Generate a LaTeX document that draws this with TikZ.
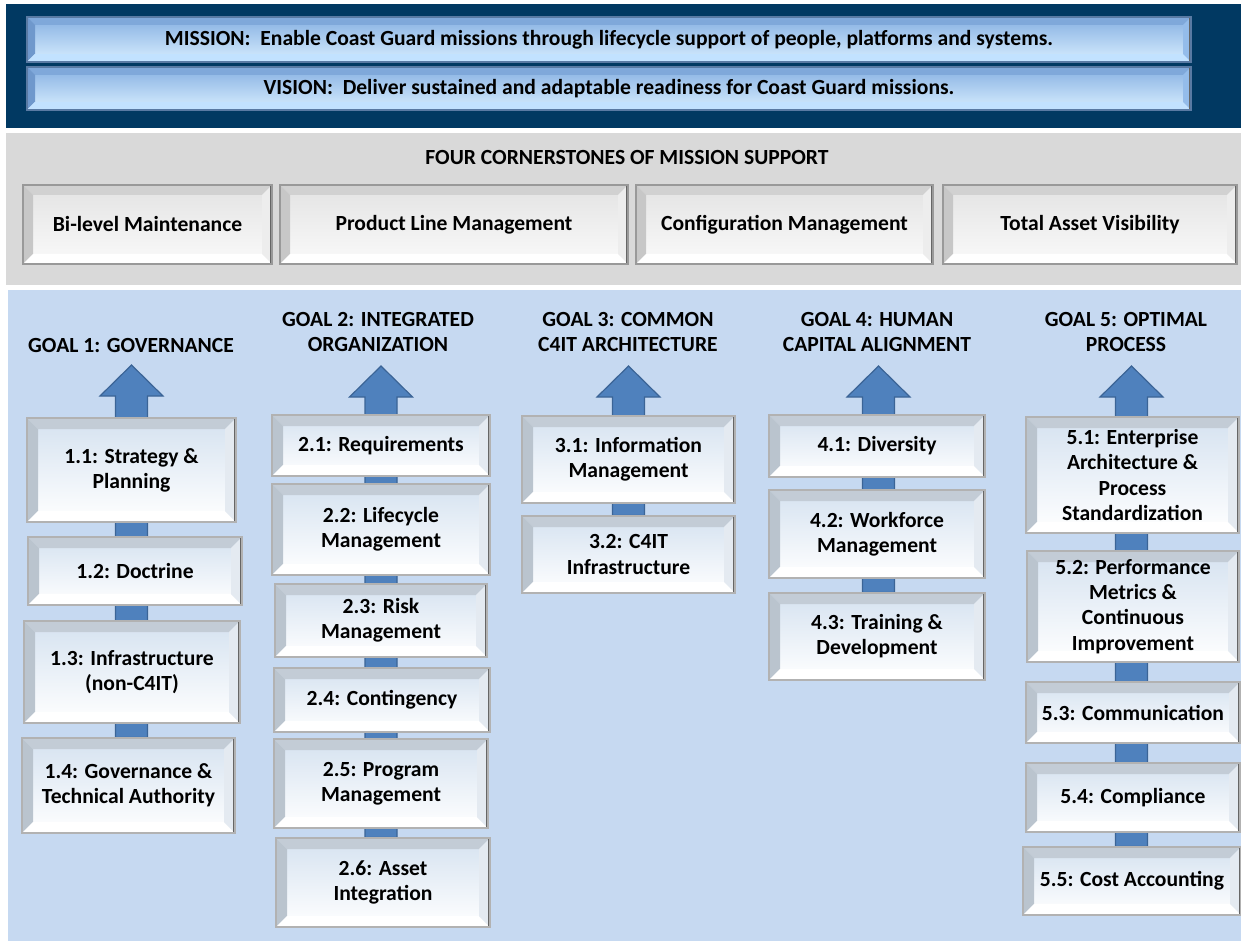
\documentclass[tikz,border=0pt]{standalone}
\usepackage{fontspec}
\setmainfont{Carlito}
\usetikzlibrary{calc}
\definecolor{navyband}{HTML}{013962}
\definecolor{greyband}{HTML}{D9D9D9}
\definecolor{blueband}{HTML}{C6D9F1}
\definecolor{arrowfill}{HTML}{4F81BD}
\definecolor{arrowline}{HTML}{3B6496}
\definecolor{facetop}{HTML}{D5E2F0}
\definecolor{bevtop}{HTML}{C3CCD6}
\definecolor{bevleft}{HTML}{BAC4CE}
\definecolor{bevright}{HTML}{E4EAF1}
\definecolor{bartop}{HTML}{86B0E2}
\definecolor{barbot}{HTML}{D8EEFF}
\definecolor{barbevtop}{HTML}{7FA8DA}
\definecolor{barbevleft}{HTML}{6F98CC}
\definecolor{barbevbot}{HTML}{C2E2FF}
\definecolor{barbevright}{HTML}{94BCEA}
\pgfdeclarelayer{bands}
\pgfdeclarelayer{arrows}
\pgfsetlayers{bands,arrows,main}
\tikzset{
  bevel/.style n args={5}{path picture={
    \coordinate (pnw) at (path picture bounding box.north west);
    \coordinate (pne) at (path picture bounding box.north east);
    \coordinate (psw) at (path picture bounding box.south west);
    \coordinate (pse) at (path picture bounding box.south east);
    \fill[#2] (pnw) -- (pne) -- ($(pne)+(-#1,-#1)$) -- ($(pnw)+(#1,-#1)$) -- cycle;
    \fill[#3] (pnw) -- ($(pnw)+(#1,-#1)$) -- ($(psw)+(#1,#1)$) -- (psw) -- cycle;
    \fill[#4] (psw) -- ($(psw)+(#1,#1)$) -- ($(pse)+(-#1,#1)$) -- (pse) -- cycle;
    \fill[#5] (pse) -- ($(pse)+(-#1,#1)$) -- ($(pne)+(-#1,-#1)$) -- (pne) -- cycle;
    \draw[line width=2pt, black!60] (pne) -- (pse);
    \draw[line width=1.2pt, black!30] (psw) -- (pse);
  }},
  goalbox/.style={rectangle, draw=black!30, line width=0.6pt, align=center,
    top color=facetop, bottom color=white, inner sep=2pt,
    bevel={5.5pt}{bevtop}{bevleft}{white}{bevright}},
  cornerbox/.style={rectangle, draw=black!40, line width=0.6pt, align=center,
    top color=black!11, bottom color=black!2, minimum height=39.5pt,
    bevel={5pt}{black!18}{black!22}{white}{black!7}},
  missionbar/.style={rectangle, draw=barbevleft!80!black, line width=0.6pt,
    top color=bartop, bottom color=barbot, minimum width=582pt,
    bevel={4pt}{barbevtop}{barbevleft}{barbevbot}{barbevright}},
  goaltitle/.style={align=center},
  goalarrow/.style={fill=arrowfill, draw=arrowline, line width=0.6pt}
}
\begin{document}
\begin{tikzpicture}[x=0.5pt,y=-0.5pt,font=\bfseries\fontsize{10.8}{12.6}\selectfont]
\useasboundingbox (0,0) rectangle (1241,941);
\begin{pgfonlayer}{bands}
\fill[white] (0,0) rectangle (1241,941);
\fill[navyband] (6,4) rectangle (1241,128);
\fill[greyband] (6,133) rectangle (1241,285);
\fill[blueband] (8,290) rectangle (1241,941);
\end{pgfonlayer}

\node[missionbar, minimum height=22.5pt] (mission) at (609,39.5) {MISSION:\ \ Enable Coast Guard missions through lifecycle support of people, platforms and systems.};
\node[missionbar, minimum height=21.5pt] (vision) at (609,88.5) {VISION:\ \ Deliver sustained and adaptable readiness for Coast Guard missions.};

\node (corner) at (627,157) {FOUR CORNERSTONES OF MISSION SUPPORT};
\node[cornerbox, minimum width=124.5pt] (c1) at (147.5,224.5) {Bi-level Maintenance};
\node[cornerbox, minimum width=174pt] (c2) at (454,224.5) {Product Line Management};
\node[cornerbox, minimum width=148.5pt] (c3) at (784.5,224.5) {Configuration Management};
\node[cornerbox, minimum width=147pt] (c4) at (1090,224.5) {Total Asset Visibility};

\node[goaltitle] (g1) at (131,345) {GOAL 1: GOVERNANCE};
\node[goaltitle] (g2) at (378,332) {GOAL 2: INTEGRATED\\ORGANIZATION};
\node[goaltitle] (g3) at (628,332) {GOAL 3: COMMON\\C4IT ARCHITECTURE};
\node[goaltitle] (g4) at (877,332) {GOAL 4: HUMAN\\CAPITAL ALIGNMENT};
\node[goaltitle] (g5) at (1126,332) {GOAL 5: OPTIMAL\\PROCESS};

\node[goalbox, minimum width=104.5pt, minimum height=52pt] (s11) at (131.5,470) {1.1: Strategy \&\\Planning};
\node[goalbox, minimum width=107pt, minimum height=34pt] (s12) at (135,571) {1.2: Doctrine};
\node[goalbox, minimum width=108pt, minimum height=51pt] (s13) at (132,672) {1.3: Infrastructure\\(non-C4IT)};
\node[goalbox, minimum width=106.5pt, minimum height=47.5pt] (s14) at (128.5,785.5) {1.4: Governance \&\\Technical Authority};

\node[goalbox, minimum width=109pt, minimum height=30.5pt] (s21) at (381,445.5) {2.1: Requirements};
\node[goalbox, minimum width=109pt, minimum height=45.5pt] (s22) at (381,529.5) {2.2: Lifecycle\\Management};
\node[goalbox, minimum width=106pt, minimum height=36.5pt] (s23) at (381,620.5) {2.3: Risk\\Management};
\node[goalbox, minimum width=108pt, minimum height=32pt] (s24) at (382,700) {2.4: Contingency};
\node[goalbox, minimum width=107pt, minimum height=44.5pt] (s25) at (381,783.5) {2.5: Program\\Management};
\node[goalbox, minimum width=107pt, minimum height=44.5pt] (s26) at (383,882.5) {2.6: Asset\\Integration};

\node[goalbox, minimum width=106.5pt, minimum height=43.5pt] (s31) at (628.5,459.5) {3.1: Information\\Management};
\node[goalbox, minimum width=106.5pt, minimum height=38.5pt] (s32) at (628.5,554.5) {3.2: C4IT\\Infrastructure};

\node[goalbox, minimum width=108pt, minimum height=31pt] (s41) at (877,446) {4.1: Diversity};
\node[goalbox, minimum width=108pt, minimum height=44pt] (s42) at (877,534) {4.2: Workforce\\Management};
\node[goalbox, minimum width=108pt, minimum height=43.5pt] (s43) at (877,636.5) {4.3: Training \&\\Development};

\node[goalbox, minimum width=106.5pt, minimum height=58pt] (s51) at (1132.5,475) {5.1: Enterprise\\Architecture \&\\Process\\Standardization};
\node[goalbox, minimum width=106pt, minimum height=55.5pt] (s52) at (1133,606.5) {5.2: Performance\\Metrics \&\\Continuous\\Improvement};
\node[goalbox, minimum width=107pt, minimum height=30.5pt] (s53) at (1133,712.5) {5.3: Communication};
\node[goalbox, minimum width=107pt, minimum height=34.5pt] (s54) at (1133,797.5) {5.4: Compliance};
\node[goalbox, minimum width=109pt, minimum height=34pt] (s55) at (1132,881) {5.5: Cost Accounting};

\coordinate (a1) at (131.5,365);
\coordinate (a2) at (381,366);
\coordinate (a3) at (628.5,366);
\coordinate (a4) at (878.5,366);
\coordinate (a5) at (1131.5,366);
\begin{pgfonlayer}{arrows}
\foreach \tip/\last in {a1/s14,a2/s26,a3/s32,a4/s43,a5/s55}{
  \draw[goalarrow] (\tip) -- ++(31.5,31) -- ++(-15.5,0) coordinate (r)
    -- (r |- \last.north) -- ++(-32,0) |- ($(\tip)+(-16,31)$) -- ++(-15.5,0) -- cycle;
}
\end{pgfonlayer}
\end{tikzpicture}
\end{document}
